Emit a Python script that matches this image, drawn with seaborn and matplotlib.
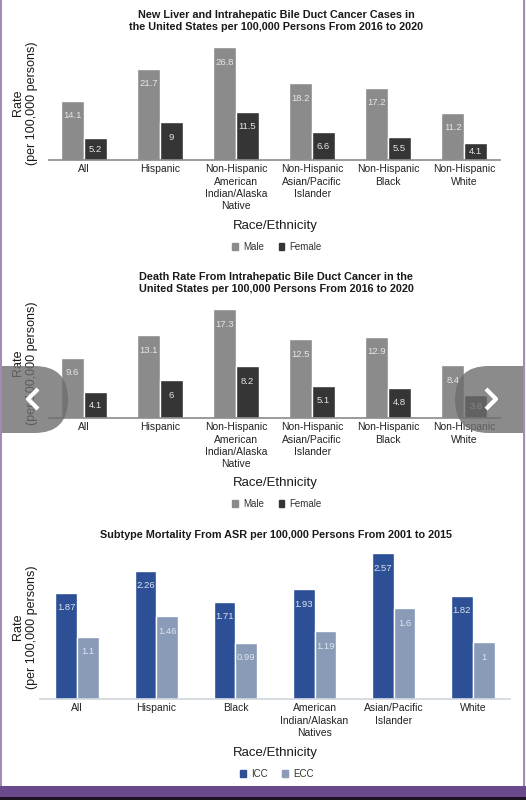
import numpy as np
import pandas as pd
import matplotlib
matplotlib.use("Agg")
import matplotlib.pyplot as plt
import seaborn as sns
from matplotlib.patches import Rectangle, FancyBboxPatch, Patch

# ---- data ----
groups_a = ["All", "Hispanic", "Non-Hispanic\nAmerican\nIndian/Alaska\nNative",
            "Non-Hispanic\nAsian/Pacific\nIslander", "Non-Hispanic\nBlack", "Non-Hispanic\nWhite"]
cases_male = [14.1, 21.7, 26.8, 18.2, 17.2, 11.2]
cases_female = [5.2, 9, 11.5, 6.6, 5.5, 4.1]
death_male = [9.6, 13.1, 17.3, 12.5, 12.9, 8.4]
death_female = [4.1, 6, 8.2, 5.1, 4.8, 3.6]

groups_b = ["All", "Hispanic", "Black", "American\nIndian/Alaskan\nNatives",
            "Asian/Pacific\nIslander", "White"]
icc = [1.87, 2.26, 1.71, 1.93, 2.57, 1.82]
ecc = [1.1, 1.46, 0.99, 1.19, 1.6, 1]

titles = ["New Liver and Intrahepatic Bile Duct Cancer Cases in\nthe United States per 100,000 Persons From 2016 to 2020",
          "Death Rate From Intrahepatic Bile Duct Cancer in the\nUnited States per 100,000 Persons From 2016 to 2020",
          "Subtype Mortality From ASR per 100,000 Persons From 2001 to 2015"]

sns.set_style("white")
plt.rcParams['font.family'] = ['Liberation Sans', 'DejaVu Sans']

W, H = 526, 800
fig = plt.figure(figsize=(W / 100, H / 100), dpi=100)
fig.patch.set_facecolor("white")


def long_df(groups, a, b, na, nb):
    return pd.DataFrame({"group": groups * 2, "value": a + b,
                         "series": [na] * len(groups) + [nb] * len(groups)})


def px_axes(left, top, right, bottom):
    return fig.add_axes([left / W, 1 - bottom / H, (right - left) / W, (bottom - top) / H])


def draw_panel(df, groups, palette, box, xlim, ymax, width, spine_col, lab_col,
               title, title_y, xlab_y, leg_y, ylab_y, legend_names):
    ax = px_axes(*box)
    sns.barplot(data=df, x="group", y="value", hue="series", order=groups,
                hue_order=legend_names, palette=palette, width=width,
                saturation=1, legend=False, ax=ax)
    ax.set_xlim(*xlim)
    ax.set_ylim(0, ymax)
    ax.set_xlabel("")
    ax.set_ylabel("")
    ax.set_yticks([])
    for s in ["left", "right", "top"]:
        ax.spines[s].set_visible(False)
    ax.spines["bottom"].set_color(spine_col)
    ax.spines["bottom"].set_linewidth(1.2)
    ax.tick_params(axis="x", length=0, pad=3, labelsize=7.5, colors="#222222")
    for t in ax.get_xticklabels():
        t.set_linespacing(1.3)
    # value labels inside bars
    for cont in ax.containers:
        for rect in cont:
            h = rect.get_height()
            px_h = ax.transData.transform((0, h))[1] - ax.transData.transform((0, 0))[1]
            off = min(15, px_h / 2) * 0.72
            ax.annotate(f"{h:g}", (rect.get_x() + rect.get_width() / 2, h),
                        xytext=(0, -off), textcoords="offset points",
                        ha="center", va="center", fontsize=6.8, color=lab_col)
    fig.text(276 / W, 1 - title_y / H, title, ha="center", va="center",
             fontsize=7.8, fontweight="bold", color="#1a1a1a", linespacing=1.3)
    fig.text(275 / W, 1 - xlab_y / H, "Race/Ethnicity", ha="center", va="center",
             fontsize=9.5, color="#1a1a1a")
    fig.text(25 / W, 1 - ylab_y / H, "Rate\n(per 100,000 persons)", ha="center",
             va="center", rotation=90, fontsize=9, color="#1a1a1a", linespacing=1.25)
    handles = [Patch(color=c) for c in palette]
    fig.legend(handles, legend_names, loc="center", bbox_to_anchor=(277 / W, 1 - leg_y / H),
               ncol=2, frameon=False, fontsize=7, handlelength=0.6, handleheight=0.6,
               handletextpad=0.5, columnspacing=1.5, labelcolor="#333333")
    return ax


grey_pal = ["#8b8b8b", "#353535"]
blue_pal = ["#2c4f95", "#8a9bb8"]

draw_panel(long_df(groups_a, cases_male, cases_female, "Male", "Female"), groups_a,
           grey_pal, (49, 40, 500, 160), (-0.46, 5.47), 28.5, 0.6, "#8a8a8a", "#e6e6e6",
           titles[0], 21, 226, 247, 103, ["Male", "Female"])
draw_panel(long_df(groups_a, death_male, death_female, "Male", "Female"), groups_a,
           grey_pal, (49, 298, 500, 418), (-0.46, 5.47), 19.05, 0.6, "#8a8a8a", "#e6e6e6",
           titles[1], 283, 483, 504, 363, ["Male", "Female"])
draw_panel(long_df(groups_b, icc, ecc, "ICC", "ECC"), groups_b,
           blue_pal, (40, 544, 510, 699), (-0.47, 5.47), 2.73, 0.55, "#cfd6de", "#dde4f0",
           titles[2], 535, 753, 774, 627, ["ICC", "ECC"])

# ---- screenshot overlay: carousel arrows and frame ----
ov = fig.add_axes([0, 0, 1, 1], zorder=10)
ov.set_xlim(0, W)
ov.set_ylim(H, 0)
ov.axis("off")
ov.patch.set_alpha(0)
ov.add_patch(FancyBboxPatch((-40, 366), 108, 67, boxstyle="round,pad=0,rounding_size=33.5",
                            fc="#6e6e6e", ec="none", alpha=0.8))
ov.add_patch(FancyBboxPatch((455, 366), 120, 67, boxstyle="round,pad=0,rounding_size=33.5",
                            fc="#6e6e6e", ec="none", alpha=0.8))
ov.plot([38, 28, 38], [389, 399, 409], color="white", lw=3, solid_capstyle="butt")
ov.plot([486, 496, 486], [389, 399, 409], color="white", lw=3, solid_capstyle="butt")
ov.add_patch(Rectangle((0, 0), 1.5, 787, fc="#a08cb4", ec="none"))
ov.add_patch(Rectangle((523, 0), 1.5, 787, fc="#a08cb4", ec="none"))
ov.add_patch(Rectangle((524.5, 0), 1.5, 787, fc="#f4f0f6", ec="none"))
ov.add_patch(Rectangle((0, 786), W, 11, fc="#6a4a8c", ec="none"))
ov.add_patch(Rectangle((0, 797), W, 3, fc="#1c1422", ec="none"))

fig.savefig("out.png", dpi=100)
